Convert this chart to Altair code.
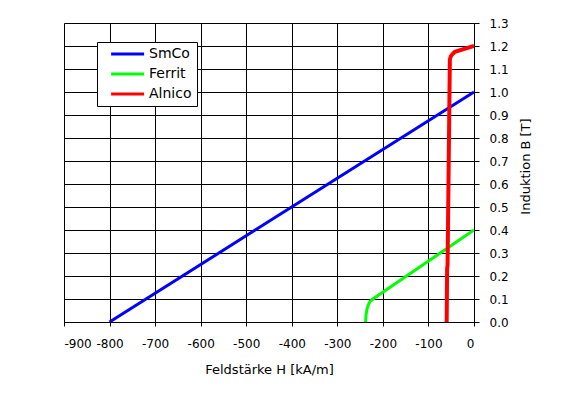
import altair as alt
import pandas as pd

series_names = ["SmCo", "Ferrit", "Alnico"]
series_colors = ["#0000ff", "#00ff00", "#ff0000"]

smco_h = [-800, 0]
smco_b = [0.0, 1.0]

ferrit_h = [-238, -237, -235, -232, -228, -222, 0]
ferrit_b = [0.0, 0.03, 0.055, 0.075, 0.09, 0.1, 0.4]

alnico_h = [-60, -59, -58, -53, -51, -47, -42, 0]
alnico_b = [0.0, 0.23, 0.25, 1.14, 1.155, 1.165, 1.175, 1.2]

x_ticks = list(range(-900, 1, 100))
y_ticks = [round(i * 0.1, 1) for i in range(14)]

rows = []
for name, hs, bs in [("SmCo", smco_h, smco_b), ("Ferrit", ferrit_h, ferrit_b), ("Alnico", alnico_h, alnico_b)]:
    for i, (h, b) in enumerate(zip(hs, bs)):
        rows.append({"serie": name, "H": h, "B": b, "i": i})
df = pd.DataFrame(rows)

FONT = "DejaVu Sans"

chart = alt.Chart(df).mark_line(clip=True).encode(
    x=alt.X("H:Q",
            scale=alt.Scale(domain=[-900, 0], nice=False, zero=False),
            axis=alt.Axis(values=x_ticks, title="Feldstärke H  [kA/m]",
                          labelExpr="toString(datum.value)", labelOverlap=False,
                          grid=True, gridColor="black", gridOpacity=1, gridWidth=1,
                          domainColor="black", tickColor="black", tickSize=4,
                          labelFont=FONT, labelFontSize=12, labelColor="black",
                          labelPadding=12, titleFont=FONT, titleFontSize=13,
                          titleFontWeight="normal", titleColor="black", titlePadding=14)),
    y=alt.Y("B:Q",
            scale=alt.Scale(domain=[0, 1.3], nice=False),
            axis=alt.Axis(orient="right", values=y_ticks, format=".1f", title="Induktion B [T]",
                          labelOverlap=False,
                          grid=True, gridColor="black", gridOpacity=1, gridWidth=1,
                          domainColor="black", tickColor="black", tickSize=5,
                          labelFont=FONT, labelFontSize=12, labelColor="black",
                          labelPadding=10, labelAlign="left",
                          titleFont=FONT, titleFontSize=13, titleFontWeight="normal",
                          titleColor="black", titleAngle=270, titleX=51, titleY=143,
                          titleAlign="center", titleBaseline="middle")),
    color=alt.Color("serie:N",
                    scale=alt.Scale(domain=series_names, range=series_colors),
                    sort=series_names,
                    legend=alt.Legend(title=None, orient="none", legendX=33, legendY=19,
                                      fillColor="white", strokeColor="black", padding=5,
                                      symbolType="M0.7,0L11.7,0", symbolSize=36,
                                      symbolStrokeWidth=3, labelFont=FONT,
                                      labelFontSize=14, labelColor="black",
                                      rowPadding=6, labelOffset=33)),
    strokeWidth=alt.condition(alt.datum.serie == "Alnico", alt.value(4), alt.value(3)),
    order="i:Q",
).properties(
    width=410, height=299,
    autosize=alt.AutoSizeParams(type="none"),
    padding={"left": 56, "top": 15, "right": 80, "bottom": 60},
).configure_view(stroke=None).configure(background="white")

chart.save("out.html", embed_options={"renderer": "svg", "actions": False})
